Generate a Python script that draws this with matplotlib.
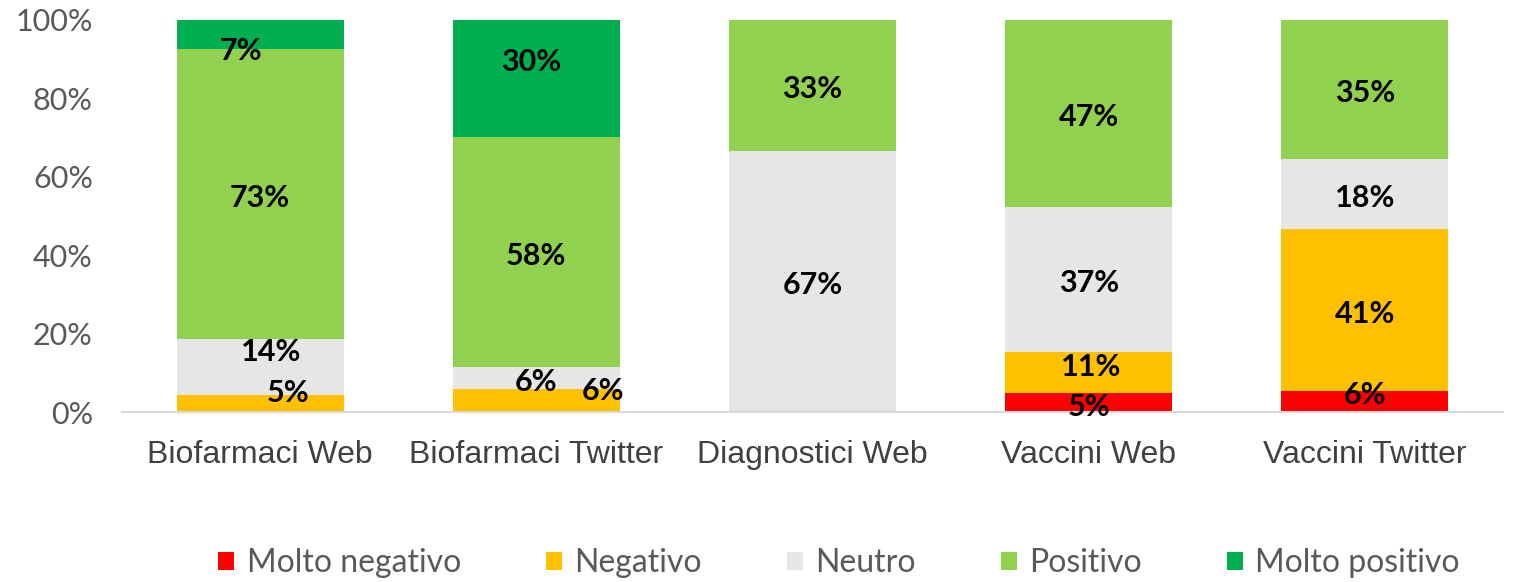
import matplotlib
matplotlib.use('Agg')
from matplotlib import pyplot as plt
from matplotlib.patches import Patch
import numpy as np

# data (percent of each bar)
categories = ['Biofarmaci Web', 'Biofarmaci Twitter', 'Diagnostici Web',
              'Vaccini Web', 'Vaccini Twitter']
series = ['Molto negativo', 'Negativo', 'Neutro', 'Positivo', 'Molto positivo']

molto_negativo = [0.0, 0.0, 0.0, 4.8, 5.4]
negativo = [4.3, 5.9, 0.0, 10.5, 41.3]
neutro = [14.4, 5.7, 66.6, 37.0, 17.8]
positivo = [73.8, 58.6, 33.4, 47.7, 35.5]
molto_positivo = [7.5, 29.8, 0.0, 0.0, 0.0]

# the labels printed on the bars (rounded in the source, not always equal to bar height)
lab_molto_negativo = ['', '', '', '5%', '6%']
lab_negativo = ['5%', '6%', '', '11%', '41%']
lab_neutro = ['14%', '6%', '67%', '37%', '18%']
lab_positivo = ['73%', '58%', '33%', '47%', '35%']
lab_molto_positivo = ['7%', '30%', '', '', '']

colors = ['#FF0000', '#FFC000', '#E7E6E6', '#92D050', '#00B050']

# hand-placed labels in the source: (bar, series) -> (dx in bar units, dy in %)
nudges = {(0, 4): (-0.07, -3.1), (0, 2): (0.04, 4.8), (0, 1): (0.10, 3.75),
          (1, 4): (-0.02, 5.3), (1, 1): (0.24, 3.3), (3, 1): (0.01, 2.35),
          (4, 0): (0.0, 2.75)}

values = [molto_negativo, negativo, neutro, positivo, molto_positivo]
labels = [lab_molto_negativo, lab_negativo, lab_neutro, lab_positivo,
          lab_molto_positivo]

W, H = 1516, 582
fig = plt.figure(figsize=(W / 100, H / 100), dpi=100)
ax = fig.add_axes([122 / W, (H - 412) / H, 1381 / W, 392 / H])

x = np.arange(len(categories))
bottom = np.zeros(len(categories))
for s, (vals, col) in enumerate(zip(values, colors)):
    vals = np.array(vals)
    ax.bar(x, vals, bottom=bottom, width=0.605, color=col, label=series[s])
    for i in range(len(categories)):
        txt = labels[s][i]
        if txt == '':
            continue
        dx, dy = nudges.get((i, s), (0, 0))
        ax.text(x[i] + dx, bottom[i] + vals[i] / 2 + dy - 1.0, txt,
                ha='center', va='center', fontsize=22, fontweight='bold',
                family=['Lato', 'DejaVu Sans'], color='black')
    bottom += vals

ax.set_xlim(-0.5, len(categories) - 0.5)
ax.set_ylim(0, 100)
ax.set_yticks(np.arange(0, 101, 20))
ax.set_yticklabels(['{}%'.format(v) for v in range(0, 101, 20)],
                   family=['Lato', 'DejaVu Sans'], fontweight='normal',
                   fontsize=22, color='#595959')
ax.set_xticks(x)
ax.set_xticklabels(categories, family=['Liberation Sans', 'DejaVu Sans'],
                   fontsize=23, color='#404040')
ax.tick_params(axis='both', length=0)
ax.tick_params(axis='x', pad=20)
ax.tick_params(axis='y', pad=21)
for side in ['top', 'right', 'left']:
    ax.spines[side].set_visible(False)
ax.spines['bottom'].set_color('#D9D9D9')
ax.spines['bottom'].set_linewidth(1.5)

handles = [Patch(facecolor=c, label=l) for c, l in zip(colors, series)]
fig.legend(handles=handles, loc='center', ncol=5,
           bbox_to_anchor=(839 / W, 1 - 563 / H), frameon=False,
           prop={'family': ['Lato', 'DejaVu Sans'], 'weight': 'normal', 'size': 23},
           labelcolor='#595959', handlelength=0.5, handleheight=0.5,
           handletextpad=0.4, columnspacing=2.65)

fig.savefig('out.png', dpi=100)
